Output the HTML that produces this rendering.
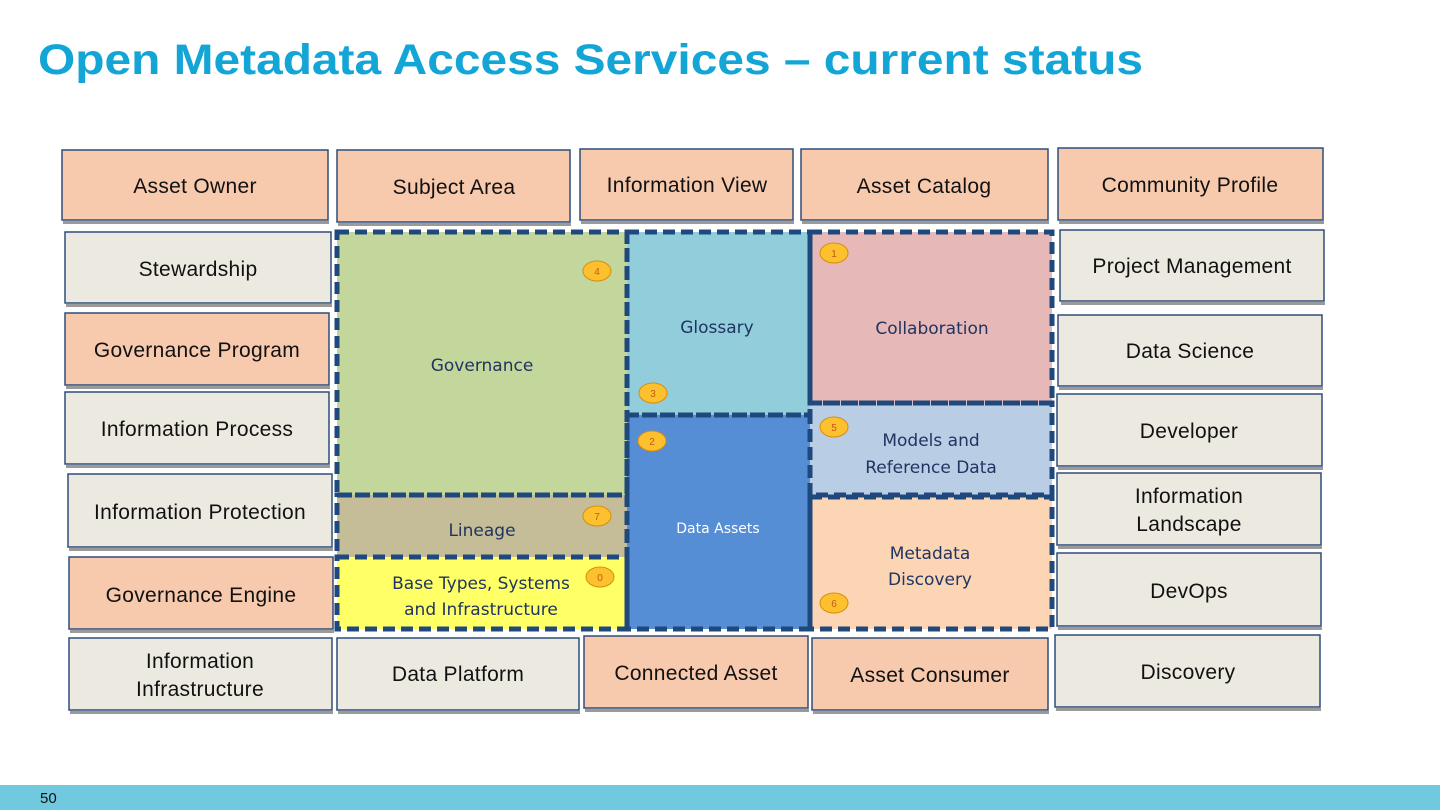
<!DOCTYPE html>
<html><head><meta charset="utf-8"><style>
html,body{margin:0;padding:0;background:#fff;width:1440px;height:810px;overflow:hidden}
svg{display:block}
.b{font-family:"Liberation Sans",sans-serif;font-size:21px;letter-spacing:0.3px;fill:#111;text-anchor:middle}
.c{font-family:"DejaVu Sans","Liberation Sans",sans-serif;font-size:17px;fill:#1f3560;text-anchor:middle}
.n{font-family:"Liberation Sans",sans-serif;font-size:10px;fill:#c55a11;text-anchor:middle}
</style></head><body>
<svg width="1440" height="810" viewBox="0 0 1440 810" xmlns="http://www.w3.org/2000/svg">
<text x="38" y="74" font-family="Liberation Sans,sans-serif" font-weight="bold" font-size="43" fill="#12a5d6" textLength="1105" lengthAdjust="spacingAndGlyphs">Open Metadata Access Services – current status</text>
<g fill="#9a9a9a">
<rect x="63" y="221" width="266" height="3"/><rect x="338" y="223" width="233" height="3"/>
<rect x="581" y="221" width="213" height="3"/><rect x="802" y="221" width="247" height="3"/>
<rect x="1059" y="221" width="265" height="3"/><rect x="66" y="386" width="264" height="3"/>
<rect x="70" y="630" width="264" height="3"/><rect x="585" y="709" width="224" height="3"/>
<rect x="813" y="711" width="236" height="3"/><rect x="66" y="304" width="266" height="3"/>
<rect x="66" y="465" width="264" height="3"/><rect x="69" y="548" width="264" height="3"/>
<rect x="70" y="711" width="263" height="3"/><rect x="1061" y="302" width="264" height="3"/>
<rect x="1059" y="387" width="264" height="3"/><rect x="1058" y="467" width="265" height="3"/>
<rect x="1058" y="546" width="264" height="3"/><rect x="1058" y="627" width="264" height="3"/>
<rect x="1056" y="708" width="265" height="3"/><rect x="338" y="711" width="242" height="3"/>
</g>
<g stroke="#2e4d7b" stroke-width="1.5">
<g fill="#f7c9ad">
<rect x="62" y="150" width="266" height="70"/><rect x="337" y="150" width="233" height="72"/>
<rect x="580" y="149" width="213" height="71"/><rect x="801" y="149" width="247" height="71"/>
<rect x="1058" y="148" width="265" height="72"/><rect x="65" y="313" width="264" height="72"/>
<rect x="69" y="557" width="264" height="72"/><rect x="584" y="636" width="224" height="72"/>
<rect x="812" y="638" width="236" height="72"/>
</g>
<g fill="#eceae0">
<rect x="65" y="232" width="266" height="71"/><rect x="65" y="392" width="264" height="72"/>
<rect x="68" y="474" width="264" height="73"/><rect x="69" y="638" width="263" height="72"/>
<rect x="1060" y="230" width="264" height="71"/><rect x="1058" y="315" width="264" height="71"/>
<rect x="1057" y="394" width="265" height="72"/><rect x="1057" y="473" width="264" height="72"/>
<rect x="1057" y="553" width="264" height="73"/><rect x="1055" y="635" width="265" height="72"/>
<rect x="337" y="638" width="242" height="72"/>
</g>
</g>
<g class="b">
<text x="195" y="193">Asset Owner</text><text x="454" y="194">Subject Area</text>
<text x="687" y="192">Information View</text><text x="924" y="193">Asset Catalog</text>
<text x="1190" y="192">Community Profile</text>
<text x="198" y="276">Stewardship</text><text x="197" y="357">Governance Program</text>
<text x="197" y="436">Information Process</text><text x="200" y="519">Information Protection</text>
<text x="201" y="602">Governance Engine</text>
<text x="200" y="668">Information</text><text x="200" y="696">Infrastructure</text>
<text x="1192" y="273">Project Management</text><text x="1190" y="358">Data Science</text>
<text x="1189" y="438">Developer</text>
<text x="1189" y="503">Information</text><text x="1189" y="531">Landscape</text>
<text x="1189" y="598">DevOps</text><text x="1188" y="679">Discovery</text>
<text x="458" y="681">Data Platform</text><text x="696" y="680">Connected Asset</text>
<text x="930" y="682">Asset Consumer</text>
</g>
<rect x="337" y="232" width="290" height="263" fill="#c3d69b"/>
<rect x="337" y="495" width="290" height="62" fill="#c4bd97"/>
<rect x="337" y="557" width="290" height="72" fill="#ffff66"/>
<rect x="627" y="232" width="183" height="183" fill="#92cddc"/>
<rect x="627" y="415" width="183" height="214" fill="#558ed5"/>
<rect x="810" y="232" width="242" height="171" fill="#e6b8b7"/>
<rect x="810" y="403" width="242" height="92" fill="#b9cde5"/>
<rect x="810" y="497" width="242" height="132" fill="#fcd5b4"/>
<g fill="none" stroke="#1f497d" stroke-width="5" stroke-dasharray="12 6">
<rect x="337" y="232" width="290" height="263"/>
<rect x="337" y="495" width="290" height="62"/>
<rect x="337" y="557" width="290" height="72"/>
<rect x="627" y="232" width="183" height="183"/>
<rect x="627" y="415" width="183" height="214"/>
<rect x="810" y="232" width="242" height="171"/>
<rect x="810" y="403" width="242" height="92"/>
<rect x="810" y="497" width="242" height="132"/>
</g>
<g class="c">
<text x="482" y="371">Governance</text>
<text x="482" y="536">Lineage</text>
<text x="481" y="589">Base Types, Systems</text><text x="481" y="615">and Infrastructure</text>
<text x="717" y="333">Glossary</text>
<text x="718" y="533" style="fill:#fff;font-size:14px">Data Assets</text>
<text x="932" y="334">Collaboration</text>
<text x="931" y="446">Models and</text><text x="931" y="473">Reference Data</text>
<text x="930" y="559">Metadata</text><text x="930" y="585">Discovery</text>
</g>
<g fill="#fdc02f" stroke="#d98e0a" stroke-width="1">
<ellipse cx="597" cy="271" rx="14" ry="10"/><ellipse cx="653" cy="393" rx="14" ry="10"/>
<ellipse cx="652" cy="441" rx="14" ry="10"/><ellipse cx="597" cy="516" rx="14" ry="10"/>
<ellipse cx="600" cy="577" rx="14" ry="10"/><ellipse cx="834" cy="253" rx="14" ry="10"/>
<ellipse cx="834" cy="427" rx="14" ry="10"/><ellipse cx="834" cy="603" rx="14" ry="10"/>
</g>
<g class="n">
<text x="597" y="275">4</text><text x="653" y="397">3</text><text x="652" y="445">2</text>
<text x="597" y="520">7</text><text x="600" y="581">0</text><text x="834" y="257">1</text>
<text x="834" y="431">5</text><text x="834" y="607">6</text>
</g>
<rect x="0" y="785" width="1440" height="25" fill="#71c9df"/>
<text x="40" y="803" font-family="Liberation Sans,sans-serif" font-size="15" fill="#111">50</text>
</svg>
</body></html>
